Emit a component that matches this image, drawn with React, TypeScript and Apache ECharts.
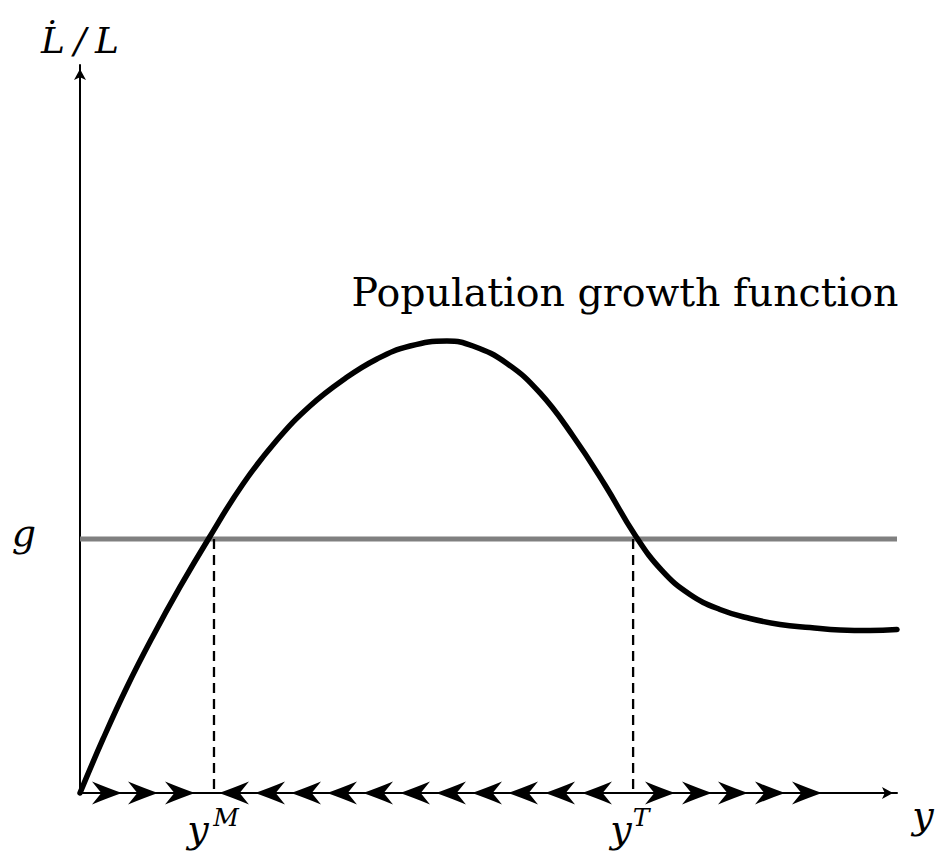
import React, { useEffect, useRef } from "react";
import * as echarts from "echarts";

// Population growth curve (x: income y, y: L̇/L)
const curveX = [0, 0.282, 0.575, 0.894, 1.224, 1.579, 1.995, 2.411, 2.815, 3.219, 3.635, 4.039, 4.492, 4.81, 5.226, 5.63, 6.034, 6.426, 6.793, 7.124, 7.466, 7.833, 8.201, 8.568, 8.935, 9.302, 9.67, 10];
const curveY = [0, 0.742, 1.456, 2.157, 2.83, 3.503, 4.245, 4.849, 5.316, 5.673, 5.962, 6.14, 6.209, 6.14, 5.9, 5.495, 4.904, 4.231, 3.544, 3.054, 2.727, 2.521, 2.397, 2.315, 2.273, 2.239, 2.232, 2.246];

const gLevel = 3.49;
const yM = 1.64;
const yT = 6.77;

// phase-diagram arrow tips on the y axis
const arrowsRightLow = [0.514, 0.955, 1.408];
const arrowsLeft = [1.701, 2.142, 2.583, 3.023, 3.464, 3.917, 4.357, 4.798, 5.239, 5.692, 6.144];
const arrowsRightHigh = [7.283, 7.736, 8.176, 8.629, 9.082];

const xMin = 0, xMax = 10, yMin = 0, yMax = 10;

const FONT = "DejaVu Serif";
const ARROW_R = "path://M0,0 Q16,6.5 29,11 Q16,15.5 0,22 L9,11 Z";
const ARROW_L = "path://M29,0 Q13,6.5 0,11 Q13,15.5 29,22 L20,11 Z";

export default function App() {
  const ref = useRef<HTMLDivElement>(null);
  useEffect(() => {
    if (!ref.current) return;
    const chart = echarts.init(ref.current, null, { renderer: "svg" });
    const axisCommon = {
      type: "value" as const,
      axisLine: {
        show: true,
        onZero: false,
        symbol: ["none", "arrow"],
        symbolSize: [9, 11],
        symbolOffset: [0, -4],
        lineStyle: { color: "#000", width: 2 },
      },
      axisTick: { show: false },
      axisLabel: { show: false },
      splitLine: { show: false },
    };
    const option: any = {
      animation: false,
      grid: { left: 80, right: 40, top: 65, bottom: 60 },
      xAxis: { ...axisCommon, min: xMin, max: xMax },
      yAxis: { ...axisCommon, min: yMin, max: yMax },
      series: [
        {
          type: "line",
          silent: true,
          symbol: "none",
          data: [[xMin, gLevel], [xMax, gLevel]],
          lineStyle: { color: "#808080", width: 5 },
          z: 2,
        },
        {
          type: "line",
          silent: true,
          symbol: "none",
          data: [[yM, gLevel], [yM, 0]],
          lineStyle: { color: "#000", width: 2.3, type: [10, 6] },
          z: 3,
        },
        {
          type: "line",
          silent: true,
          symbol: "none",
          data: [[yT, gLevel], [yT, 0]],
          lineStyle: { color: "#000", width: 2.3, type: [10, 6] },
          z: 3,
        },
        {
          type: "line",
          silent: true,
          symbol: "none",
          smooth: 0.45,
          clip: false,
          data: curveX.map((x, i) => [x, curveY[i]]),
          lineStyle: { color: "#000", width: 5.5, cap: "round" },
          z: 5,
        },
        {
          type: "scatter",
          silent: true,
          symbol: ARROW_R,
          symbolSize: [30, 23],
          symbolOffset: [-15, 0],
          itemStyle: { color: "#000", opacity: 1 },
          data: [...arrowsRightLow, ...arrowsRightHigh].map((x) => [x, 0]),
          clip: false,
          z: 6,
        },
        {
          type: "scatter",
          silent: true,
          symbol: ARROW_L,
          symbolSize: [30, 23],
          symbolOffset: [15, 0],
          itemStyle: { color: "#000", opacity: 1 },
          data: arrowsLeft.map((x) => [x, 0]),
          clip: false,
          z: 6,
        },
      ],
    };
    chart.setOption(option);

    const pM = chart.convertToPixel({ gridIndex: 0 }, [yM, 0]) as number[];
    const pT = chart.convertToPixel({ gridIndex: 0 }, [yT, 0]) as number[];
    const pG = chart.convertToPixel({ gridIndex: 0 }, [0, gLevel]) as number[];
    const pTop = chart.convertToPixel({ gridIndex: 0 }, [0, yMax]) as number[];
    const pEnd = chart.convertToPixel({ gridIndex: 0 }, [xMax, 0]) as number[];

    const txt = (text: string, x: number, y: number, size: number, italic = true) => ({
      type: "text",
      x,
      y,
      silent: true,
      style: {
        text,
        fill: "#000",
        fontFamily: FONT,
        fontSize: size,
        fontStyle: italic ? "italic" : "normal",
        fontWeight: "normal",
        align: "center",
        verticalAlign: "middle",
      },
    });

    chart.setOption({
      graphic: [
        txt("L\u0307\u2005/\u2005L", pTop[0], pTop[1] - 25, 36),
        txt("g", 24, pG[1] - 6, 38),
        txt("y", pM[0] - 16, pM[1] + 36, 38),
        txt("M", pM[0] + 12, pM[1] + 24, 25),
        txt("y", pT[0] - 12, pT[1] + 36, 38),
        txt("T", pT[0] + 8, pT[1] + 24, 25),
        txt("y", pEnd[0] + 26, pEnd[1] + 22, 38),
        txt("Population growth function", 625, 292, 39.5, false),
      ],
    });

    return () => chart.dispose();
  }, []);
  return (
    <div
      ref={ref}
      style={{ position: "absolute", left: 0, top: 0, width: 937, height: 853, background: "#fff" }}
    />
  );
}
